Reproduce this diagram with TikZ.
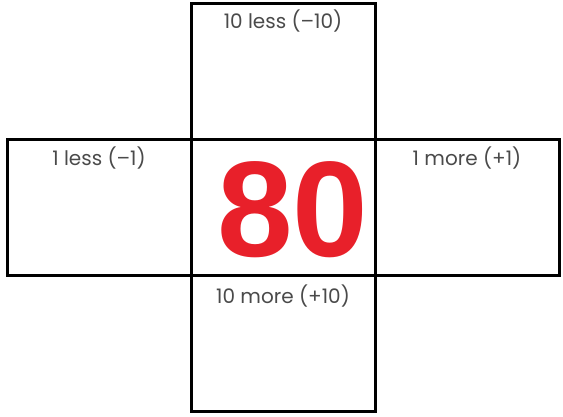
\documentclass[tikz,border=0pt]{standalone}
\usepackage{fontspec}
\setmainfont{Poppins}
\newfontfamily\numfont{Liberation Sans}
\usepackage{tikz}
\usetikzlibrary{positioning}
\definecolor{gridred}{HTML}{E8202A}
\definecolor{gridgray}{HTML}{4A4A4A}

\begin{document}
\begin{tikzpicture}[
  x=1pt,y=1pt,
  cell/.style={draw=black,line width=3pt,outer sep=0pt,inner sep=0pt,minimum width=184pt,minimum height=136pt},
  lbl/.style={text=gridgray,font=\fontsize{20}{22}\selectfont,inner sep=0pt,anchor=north}
]
\useasboundingbox (0,0) rectangle (563,416);
% centre cell and its four neighbours
\node[cell] (mid) at (283,208.5) {};
\node[cell,above=0pt of mid] (up) {};
\node[cell,below=0pt of mid] (down) {};
\node[cell,left=0pt of mid] (lft) {};
\node[cell,right=0pt of mid] (rgt) {};
% labels
\node[lbl,below=6pt of up.north] (uplbl) {10 less (–10)};
\node[lbl,below=7pt of lft.north] (lftlbl) {1 less (–1)};
\node[lbl,below=7pt of rgt.north] (rgtlbl) {1 more (+1)};
\node[lbl,below=9pt of down.north] (downlbl) {10 more (+10)};
\node[text=gridred,font=\numfont\bfseries\fontsize{136}{136}\selectfont,inner sep=0pt] (num) at (293,206) {80};
\end{tikzpicture}
\end{document}
